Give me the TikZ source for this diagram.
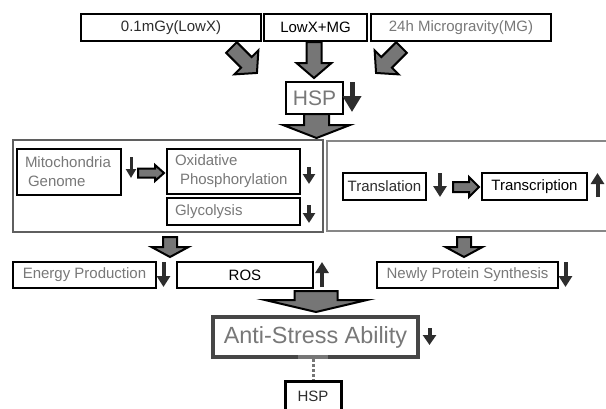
\documentclass[tikz,border=0pt]{standalone}
\usepackage{fontspec}
\setmainfont{Liberation Sans}
\usetikzlibrary{arrows.meta}
\definecolor{tgray}{RGB}{120,120,120}
\definecolor{tdark}{RGB}{45,45,45}
\definecolor{afill}{RGB}{118,118,118}
\definecolor{bgrayA}{RGB}{95,95,95}
\definecolor{bgrayB}{RGB}{135,135,135}
\definecolor{bantis}{RGB}{70,70,70}
\tikzset{
  box/.style={draw=black, line width=2pt, inner sep=0pt, fill=white, font=\fontsize{15}{19}\selectfont},
  bigbox/.style={line width=2.5pt, inner sep=0pt},
  fatstyle/.style={fill=afill, draw=black, line width=2pt, line join=miter},
  thinarr/.style={draw=tdark, line width=4pt, -{Triangle[width=13pt,length=11pt]}},
}
\newcommand\fatarrow[6]{%
  \begin{scope}[shift={#1}, rotate=#2]
  \pgfmathsetmacro\fahb{#3-#6}
  \filldraw[fatstyle] (0,-#4) -- (\fahb,-#4) -- (\fahb,-#5) -- (#3,0) -- (\fahb,#5) -- (\fahb,#4) -- (0,#4) -- cycle;
  \end{scope}}
\begin{document}
\begin{tikzpicture}[x=1pt,y=-1pt]
\useasboundingbox (0,0) rectangle (606,408);
\fill[white] (0,0) rectangle (606,408);

% top boxes
\node[box, minimum width=180pt, minimum height=27pt, text=tdark] (b1) at (171,27.5) {0.1mGy(LowX)};
\node[box, minimum width=103pt, minimum height=27pt] (b2) at (315.5,27.5) {LowX+MG};
\node[box, minimum width=180pt, minimum height=27pt, text=tgray] (b3) at (461,27.5) {24h Microgravity(MG)};

\fatarrow{(231.5,47.5)}{-45}{36}{7.5}{17}{15}
\fatarrow{(314,42)}{-90}{36}{7.5}{17.5}{15}
\fatarrow{(401.5,47.5)}{-135}{36}{7.5}{17}{15}

% HSP
\node[box, minimum width=57pt, minimum height=32pt, text=tgray, font=\fontsize{21}{25}\selectfont] (hsp) at (314.5,98) {HSP};
\draw[thinarr, line width=5pt, -{Triangle[width=18pt,length=16pt]}] (352,82) -- (352,112);
\fatarrow{(316.5,114)}{-90}{24}{12.5}{33.5}{13}

% big boxes
\node[bigbox, draw=bgrayA, minimum width=310pt, minimum height=92pt] (lbox) at (168,186) {};
\node[bigbox, draw=bgrayB, minimum width=285pt, minimum height=90pt] (rbox) at (469.5,186) {};

% left inner
\node[box, minimum width=104pt, minimum height=46pt, text width=88pt, align=left, text=tgray] (mito) at (69,172) {Mitochondria\\\hspace{3pt}Genome};
\node[box, minimum width=133pt, minimum height=45pt, text width=117pt, align=left, text=tgray] (oxid) at (233.5,171.5) {Oxidative\\\hspace{5pt}Phosphorylation};
\node[box, minimum width=133pt, minimum height=27pt, text width=117pt, align=left, text=tgray] (glyc) at (233.5,211.5) {Glycolysis};
\draw[thinarr, line width=3pt, -{Triangle[width=10pt,length=9pt]}] (131,157) -- (131,178);
\draw[thinarr, line width=3.5pt, -{Triangle[width=12pt,length=10pt]}] (309,167) -- (309,184);
\draw[thinarr, line width=3.5pt, -{Triangle[width=12pt,length=10pt]}] (309,205) -- (309,223);
\fatarrow{(138,173)}{0}{26}{4.5}{8}{9}

% right inner
\node[box, minimum width=83pt, minimum height=27pt, text=tdark] (transl) at (384.5,186.5) {Translation};
\node[box, minimum width=105pt, minimum height=27pt] (transc) at (534.5,186.5) {Transcription};
\draw[thinarr] (440,173) -- (440,197);
\draw[thinarr] (597.5,197) -- (597.5,173);
\fatarrow{(453,187)}{0}{26}{5}{10}{10}

% down arrows
\fatarrow{(170,237)}{-90}{20}{7}{18.5}{10}
\fatarrow{(464,237)}{-90}{20}{7}{18.5}{10}

% middle row
\node[box, minimum width=143pt, minimum height=26pt, text=tgray] (energy) at (84.5,275) {Energy Production};
\node[box, minimum width=136pt, minimum height=26pt] (ros) at (245,275) {ROS};
\node[box, minimum width=181pt, minimum height=26pt, text=tgray] (newly) at (467.5,275) {Newly Protein Synthesis};
\draw[thinarr] (163.5,262) -- (163.5,287);
\draw[thinarr] (322,287) -- (322,262);
\draw[thinarr] (565.5,262) -- (565.5,287);

\fatarrow{(316,291)}{-90}{21}{21.5}{51}{12}

% anti-stress
\node[box, draw=bantis, line width=3.5pt, minimum width=205pt, minimum height=40pt, text=tgray, font=\fontsize{23.4}{28}\selectfont] (anti) at (315.5,337) {Anti-Stress Ability};
\draw[thinarr, -{Triangle[width=13pt,length=10pt]}] (429.5,328) -- (429.5,345);
\fill[afill] (298,355) rectangle (328,359);

\node[box, line width=3pt, minimum width=56pt, minimum height=31pt, text=tdark] (hsp2) at (313,396.5) {HSP};
\draw[afill, line width=3pt, dash pattern=on 3pt off 2pt] (313,359) -- (hsp2.north);
\end{tikzpicture}
\end{document}
